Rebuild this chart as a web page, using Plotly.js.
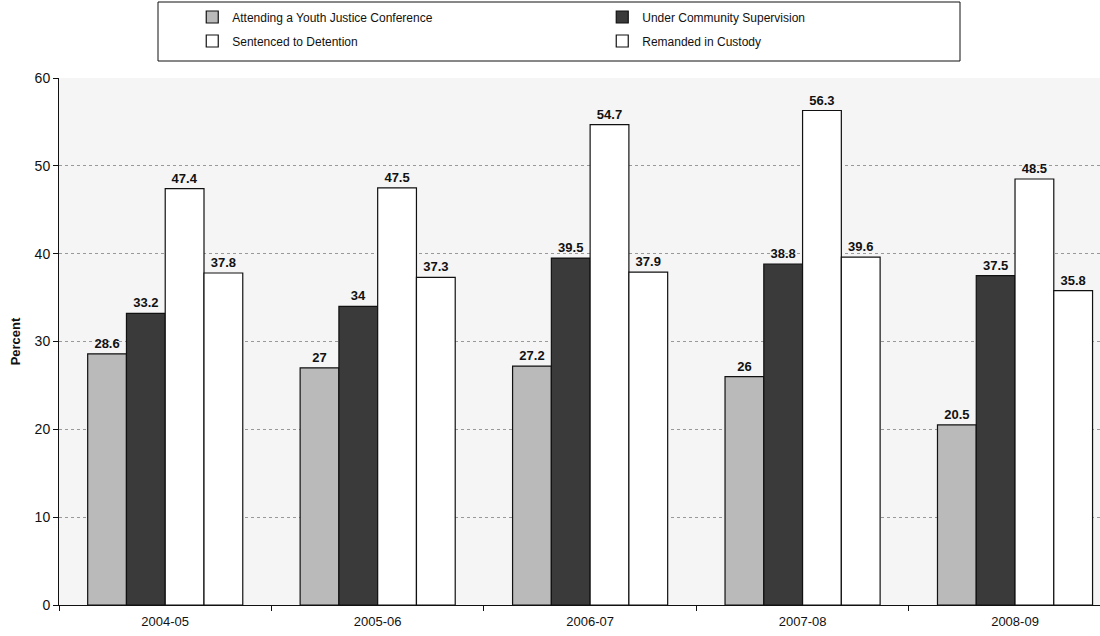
<!DOCTYPE html>
<html>
<head>
<meta charset="utf-8">
<script src="https://cdn.plot.ly/plotly-3.0.1.min.js"></script>
<style>html,body{margin:0;padding:0;background:#fff;}#chart{width:1100px;height:636px;}</style>
</head>
<body>
<div id="chart"></div>
<script>
const years = ["2004-05", "2005-06", "2006-07", "2007-08", "2008-09"];
const conference = [28.6, 27, 27.2, 26, 20.5];
const supervision = [33.2, 34, 39.5, 38.8, 37.5];
const detention = [47.4, 47.5, 54.7, 56.3, 48.5];
const remanded = [37.8, 37.3, 37.9, 39.6, 35.8];
const seriesNames = ["Attending a Youth Justice Conference", "Under Community Supervision", "Sentenced to Detention", "Remanded in Custody"];

const colors = ["#bababa", "#3a3a3a", "#ffffff", "#ffffff"];
const legendIds = ["legend", "legend", "legend2", "legend2"];
const series = [conference, supervision, detention, remanded];

const traces = series.map((vals, i) => ({
  type: "bar",
  name: seriesNames[i],
  legend: legendIds[i],
  x: years,
  y: vals,
  text: vals.map(v => String(v)),
  texttemplate: "<b>%{text}</b>",
  textposition: "outside",
  cliponaxis: false,
  textfont: {family: "Liberation Sans, Arial, sans-serif", size: 13, color: "#111"},
  marker: {color: colors[i], line: {color: "#111", width: 1.2}},
  hoverinfo: "skip"
}));

const legendCommon = {
  orientation: "h",
  xanchor: "left",
  yanchor: "middle",
  entrywidth: 365,
  bgcolor: "rgba(0,0,0,0)",
  borderwidth: 0,
  font: {size: 12, color: "#111"},
  itemwidth: 30
};

const layout = {
  width: 1100,
  height: 636,
  margin: {l: 59, r: 0, t: 78, b: 31},
  paper_bgcolor: "#ffffff",
  plot_bgcolor: "#f5f5f5",
  font: {family: "Liberation Sans, Arial, sans-serif", size: 13, color: "#111"},
  barmode: "group",
  bargap: 0.27,
  bargroupgap: 0,
  showlegend: true,
  legend: Object.assign({}, legendCommon, {x: 0.128, y: (605 - 17) / 527}),
  legend2: Object.assign({}, legendCommon, {x: 0.128, y: (605 - 41) / 527}),
  xaxis: {
    type: "category",
    range: [-0.5, 4.4],
    showgrid: false,
    ticks: "outside",
    tickson: "boundaries",
    ticklen: 5,
    tickcolor: "#111",
    showline: true,
    linecolor: "#111",
    linewidth: 1,
    tickfont: {size: 13},
    ticklabelstandoff: 4,
    fixedrange: true
  },
  yaxis: {
    range: [0, 60],
    dtick: 10,
    ticks: "outside",
    ticklen: 5,
    tickcolor: "#111",
    showline: true,
    linecolor: "#111",
    linewidth: 1,
    showgrid: true,
    gridcolor: "#999",
    griddash: "dot",
    gridwidth: 1,
    zeroline: false,
    tickfont: {size: 14},
    title: {text: "<b>Percent</b>", font: {size: 13}, standoff: 11},
    fixedrange: true
  },
  shapes: [{
    type: "rect", xref: "paper", yref: "paper",
    x0: (158 - 59) / 1041, x1: (960 - 59) / 1041,
    y0: (605 - 61) / 527, y1: (605 - 2) / 527,
    line: {color: "#111", width: 1},
    fillcolor: "#ffffff",
    layer: "below"
  }]
};

Plotly.newPlot("chart", traces, layout, {displayModeBar: false, staticPlot: true});
</script>
</body>
</html>
